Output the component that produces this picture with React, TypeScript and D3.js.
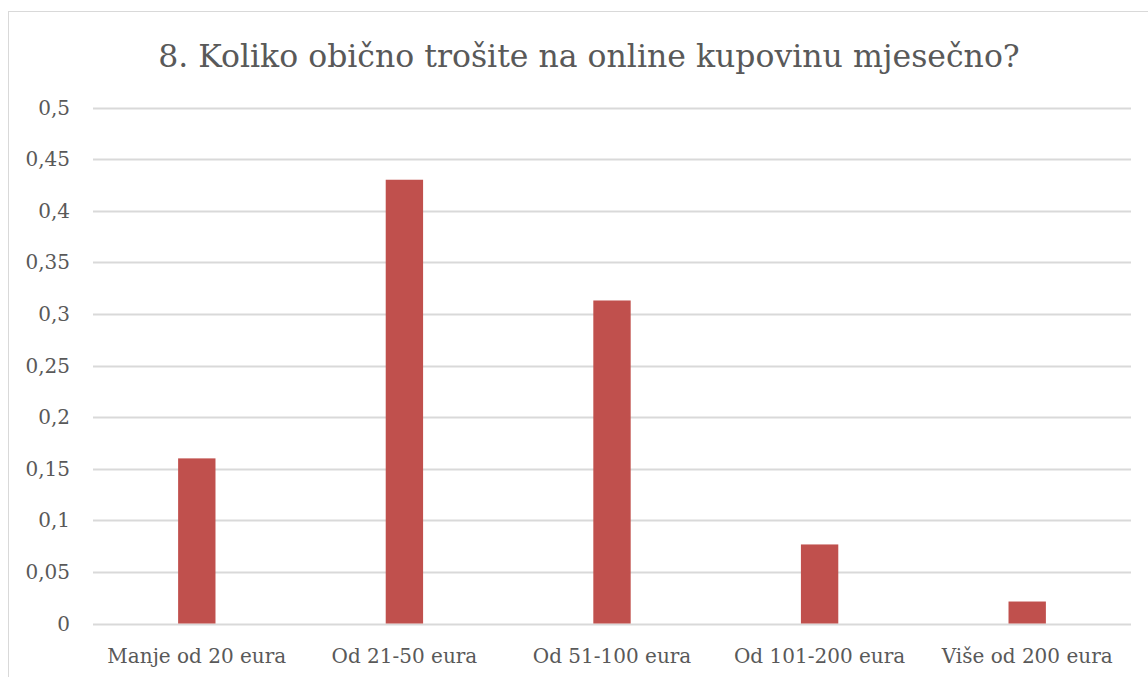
import React from "react";
import * as d3 from "d3";

const categories = ["Manje od 20 eura", "Od 21-50 eura", "Od 51-100 eura", "Od 101-200 eura", "Više od 200 eura"];
const values = [0.16, 0.43, 0.313, 0.0766, 0.0213];
const yTicks = [0, 0.05, 0.1, 0.15, 0.2, 0.25, 0.3, 0.35, 0.4, 0.45, 0.5];
const title = "8. Koliko obično trošite na online kupovinu mjesečno?";

export default function App() {
  const W = 1148, H = 677;
  const left = 93, right = 1131, top = 107.5, bottom = 623.5;
  const x = d3.scaleBand().domain(categories).range([left, right]).paddingInner(0.82).paddingOuter(0.41);
  const y = d3.scaleLinear().domain([0, 0.5]).range([bottom, top]);
  const font = "'DejaVu Serif', serif";
  const fmt = (v: number) => String(+v.toFixed(2)).replace(".", ",");
  return (
    <svg width={W} height={H} style={{ position: "absolute", left: 0, top: 0 }}>
      <rect x={8.5} y={11.5} width={1200} height={700} fill="#fff" stroke="#d9d9d9" />
      <text x={589} y={67} textAnchor="middle" fontFamily={font} fontSize={31.5} fill="#595959">{title}</text>
      {yTicks.map((t) => (
        <g key={t}>
          <line x1={left} x2={right} y1={Math.round(y(t)) + 0.5} y2={Math.round(y(t)) + 0.5} stroke="#d9d9d9" strokeWidth={2} />
          <text x={70} y={y(t)} dy="0.35em" textAnchor="end" fontFamily={font} fontSize={20} fill="#595959">{fmt(t)}</text>
        </g>
      ))}
      {categories.map((c, i) => (
        <rect key={c} x={x(c)} y={y(values[i])} width={x.bandwidth()} height={y(0) - y(values[i])} fill="#C0504D" />
      ))}
      {categories.map((c) => (
        <text key={c} x={(x(c) as number) + x.bandwidth() / 2} y={656} dy="0.35em" textAnchor="middle" fontFamily={font} fontSize={20} fill="#595959">{c}</text>
      ))}
    </svg>
  );
}
